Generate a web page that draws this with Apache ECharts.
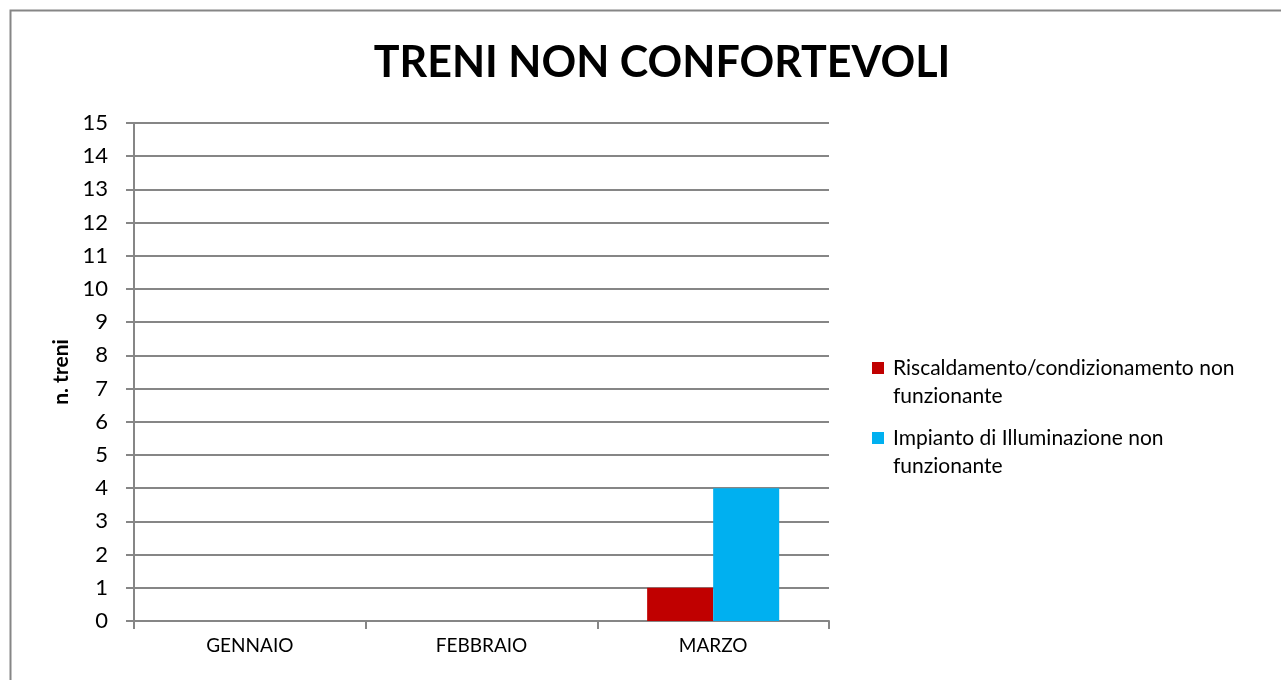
<!DOCTYPE html>
<html>
<head>
<meta charset="utf-8">
<script src="https://cdn.jsdelivr.net/npm/echarts@6/dist/echarts.min.js"></script>
<style>
  html, body { margin: 0; padding: 0; background: #fff; }
  #main { width: 1281px; height: 680px; }
</style>
</head>
<body>
<div id="main"></div>
<script>
// dati del grafico
var mesi = ['GENNAIO', 'FEBBRAIO', 'MARZO'];
var riscaldamento = [0, 0, 1];
var illuminazione = [0, 0, 4];
var nomiSerie = ['Riscaldamento/condizionamento non funzionante', 'Impianto di Illuminazione non funzionante'];
var legendaTesto = {
    'Riscaldamento/condizionamento non funzionante': 'Riscaldamento/condizionamento non\nfunzionante',
    'Impianto di Illuminazione non funzionante': 'Impianto di Illuminazione non\nfunzionante'
};

var font = 'Lato, "Open Sans", sans-serif';
var grigio = '#868686';

// quadratino in alto, allineato alla prima riga del testo
var iconaLegenda = 'path://M0,0h12v12h-12z M0,39.99h0.01v0.01h-0.01z';

var myChart = echarts.init(document.getElementById('main'));
var option = {
    backgroundColor: '#fff',
    animation: false,
    title: {
        text: 'TRENI NON CONFORTEVOLI',
        left: 657,
        top: 37,
        textAlign: 'center',
        textStyle: { fontFamily: font, fontSize: 43, fontWeight: 'bold', color: '#000' }
    },
    graphic: [{
        type: 'rect',
        shape: { x: 10.5, y: 10.5, width: 1300, height: 700 },
        style: { fill: 'none', stroke: grigio, lineWidth: 2 }
    }],
    legend: {
        orient: 'vertical',
        left: 867,
        top: 349,
        itemWidth: 12,
        itemHeight: 40,
        itemGap: 14,
        icon: iconaLegenda,
        data: nomiSerie,
        formatter: function (name) { return legendaTesto[name]; },
        textStyle: { fontFamily: font, fontSize: 21, color: '#000', lineHeight: 28, padding: [0, 0, 0, 4] }
    },
    grid: { left: 134, top: 123, width: 695, height: 498 },
    xAxis: {
        type: 'category',
        data: mesi,
        axisLine: { lineStyle: { color: grigio, width: 2 } },
        axisTick: { show: true, length: 8, lineStyle: { color: grigio, width: 2 } },
        axisLabel: { margin: 15, fontFamily: font, fontSize: 19, color: '#000' }
    },
    yAxis: {
        type: 'value',
        min: 0,
        max: 15,
        interval: 1,
        name: 'n. treni',
        nameLocation: 'middle',
        nameGap: 62,
        nameTextStyle: { fontFamily: font, fontSize: 21, fontWeight: 'bold', color: '#000' },
        axisLine: { show: true, lineStyle: { color: grigio, width: 2 } },
        axisTick: { show: true, length: 8, lineStyle: { color: grigio, width: 2 } },
        axisLabel: { margin: 26, fontFamily: font, fontSize: 22, color: '#000' },
        splitLine: { lineStyle: { color: grigio, width: 2 } }
    },
    series: [
        {
            name: nomiSerie[0],
            type: 'bar',
            data: riscaldamento,
            itemStyle: { color: '#c00000' },
            barGap: '0%',
            barCategoryGap: '43%'
        },
        {
            name: nomiSerie[1],
            type: 'bar',
            data: illuminazione,
            itemStyle: { color: '#00b0f0' }
        }
    ]
};
myChart.setOption(option);
</script>
</body>
</html>
